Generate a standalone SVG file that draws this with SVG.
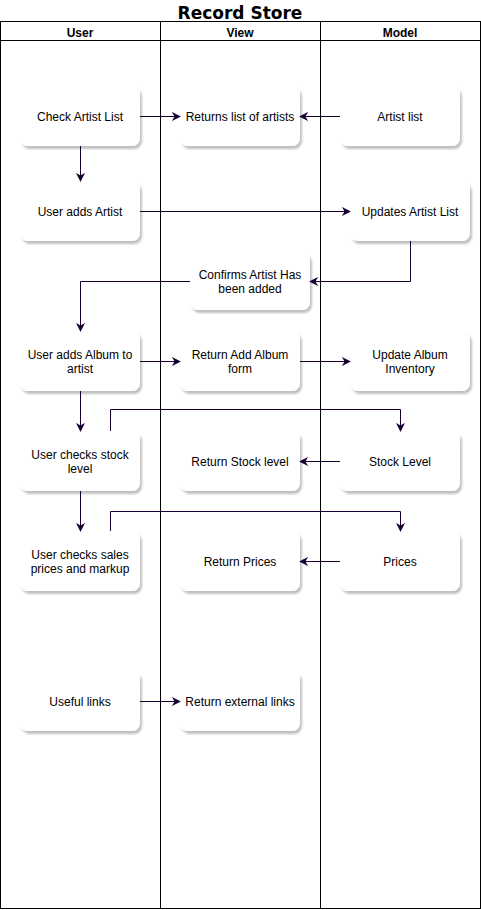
<svg xmlns="http://www.w3.org/2000/svg" width="481" height="910" viewBox="0 0 481 910">
<defs>
<filter id="sh" x="-10%" y="-10%" width="130%" height="130%">
<feOffset dx="2" dy="3" in="SourceAlpha" result="o"/>
<feGaussianBlur in="o" stdDeviation="1" result="b"/>
<feFlood flood-color="#000" flood-opacity="0.25"/>
<feComposite in2="b" operator="in" result="s"/>
<feMerge><feMergeNode in="s"/><feMergeNode in="SourceGraphic"/></feMerge>
</filter>
<marker id="ah" viewBox="0 0 10 10" refX="9" refY="5" markerWidth="9" markerHeight="9" markerUnits="userSpaceOnUse" orient="auto">
<path d="M0,0 L10,5 L0,10 L3,5 Z" fill="#190033"/>
</marker>
</defs>
<style>
.lane{fill:none;stroke:#000;stroke-width:1}
.hd{font-family:"Liberation Sans",Arial,sans-serif;font-size:12px;font-weight:bold;text-anchor:middle}
.n rect{fill:#fff;stroke:none;filter:url(#sh)}
.n text{font-family:"Liberation Sans",Arial,sans-serif;font-size:12px;text-anchor:middle;fill:#000}
.e path{fill:none;stroke:#190033;stroke-width:1;marker-end:url(#ah)}
</style>
<rect width="481" height="910" fill="#fff"/>
<text x="240" y="19" font-family="'DejaVu Sans',Verdana,sans-serif" font-size="17" font-weight="bold" text-anchor="middle">Record Store</text>
<g id="pool">
<rect class="lane" x="0.5" y="21.5" width="480" height="887"/>
<line class="lane" x1="0.5" y1="40.5" x2="480.5" y2="40.5"/>
<line class="lane" x1="160.5" y1="21.5" x2="160.5" y2="908.5"/>
<line class="lane" x1="320.5" y1="21.5" x2="320.5" y2="908.5"/>
<text class="hd" x="80" y="37">User</text>
<text class="hd" x="240" y="37">View</text>
<text class="hd" x="400" y="37">Model</text>
</g>
<g id="n1" class="n"><rect x="20" y="86" width="120" height="60" rx="8"/><text x="80" y="121">Check Artist List</text></g>
<g id="n2" class="n"><rect x="180" y="86" width="120" height="60" rx="8"/><text x="240" y="121">Returns list of artists</text></g>
<g id="n3" class="n"><rect x="340" y="86" width="120" height="60" rx="8"/><text x="400" y="121">Artist list</text></g>
<g id="n4" class="n"><rect x="20" y="181" width="120" height="60" rx="8"/><text x="80" y="216">User adds Artist</text></g>
<g id="n5" class="n"><rect x="350" y="181" width="120" height="60" rx="8"/><text x="410" y="216">Updates Artist List</text></g>
<g id="n6" class="n"><rect x="190" y="252" width="120" height="58" rx="8"/><text x="250" y="279">Confirms Artist Has</text><text x="250" y="293">been added</text></g>
<g id="n7" class="n"><rect x="20" y="331" width="120" height="60" rx="8"/><text x="80" y="359">User adds Album to</text><text x="80" y="373">artist</text></g>
<g id="n8" class="n"><rect x="180" y="331" width="120" height="60" rx="8"/><text x="240" y="359">Return Add Album</text><text x="240" y="373">form</text></g>
<g id="n9" class="n"><rect x="350" y="331" width="120" height="60" rx="8"/><text x="410" y="359">Update Album</text><text x="410" y="373">Inventory</text></g>
<g id="n10" class="n"><rect x="20" y="431" width="120" height="60" rx="8"/><text x="80" y="459">User checks stock</text><text x="80" y="473">level</text></g>
<g id="n11" class="n"><rect x="180" y="431" width="120" height="60" rx="8"/><text x="240" y="466">Return Stock level</text></g>
<g id="n12" class="n"><rect x="340" y="431" width="120" height="60" rx="8"/><text x="400" y="466">Stock Level</text></g>
<g id="n13" class="n"><rect x="20" y="531" width="120" height="60" rx="8"/><text x="80" y="559">User checks sales</text><text x="80" y="573">prices and markup</text></g>
<g id="n14" class="n"><rect x="180" y="531" width="120" height="60" rx="8"/><text x="240" y="566">Return Prices</text></g>
<g id="n15" class="n"><rect x="340" y="531" width="120" height="60" rx="8"/><text x="400" y="566">Prices</text></g>
<g id="n16" class="n"><rect x="20" y="671" width="120" height="60" rx="8"/><text x="80" y="706">Useful links</text></g>
<g id="n17" class="n"><rect x="180" y="671" width="120" height="60" rx="8"/><text x="240" y="706">Return external links</text></g>
<g id="edges" class="e">
<path d="M140,116.5 H180"/>
<path d="M340,116.5 H300"/>
<path d="M80.5,146 V181"/>
<path d="M140,211.5 H350"/>
<path d="M410.5,241 V281.5 H310"/>
<path d="M190,281.5 H80.5 V331"/>
<path d="M140,361.5 H180"/>
<path d="M300,361.5 H350"/>
<path d="M80.5,391 V431"/>
<path d="M110.5,431 V409.5 H400.5 V431"/>
<path d="M340,461.5 H300"/>
<path d="M80.5,491 V531"/>
<path d="M110.5,531 V511.5 H400.5 V531"/>
<path d="M340,561.5 H300"/>
<path d="M140,701.5 H180"/>
</g>
</svg>
